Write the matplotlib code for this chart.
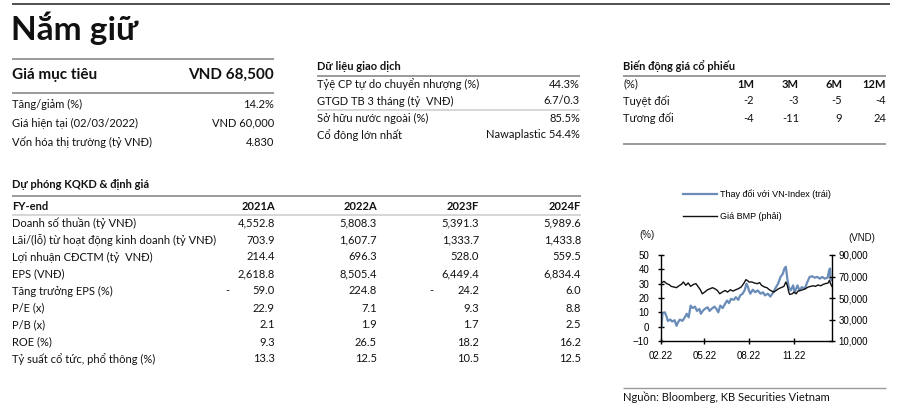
import numpy as np
import matplotlib
matplotlib.use('Agg')
import matplotlib.pyplot as plt
import matplotlib.dates as mdates
from matplotlib.ticker import FuncFormatter

plt.rcParams['font.family'] = ['Lato', 'Noto Sans', 'DejaVu Sans']
CHART_FONT = ['Liberation Sans', 'DejaVu Sans']

# --- header block
rating = 'Nắm giữ'
target_label = 'Giá mục tiêu'
target_value = 'VND 68,500'
summary_labels = ['Tăng/giảm (%)', 'Giá hiện tại (02/03/2022)', 'Vốn hóa thị trường (tỷ VNĐ)']
summary_values = ['14.2%', 'VND 60,000', '4.830']

# --- trading data
trading_title = 'Dữ liệu giao dịch'
trading_labels = ['Tỷệ CP tự do chuyển nhượng (%)', 'GTGD TB 3 tháng (tỷ  VNĐ)',
                  'Sở hữu nước ngoài (%)', 'Cổ đông lớn nhất']
trading_values = ['44.3%', '6.7/0.3', '85.5%', 'Nawaplastic 54.4%']

# --- share price performance
perf_title = 'Biến động giá cổ phiếu'
perf_periods = ['1M', '3M', '6M', '12M']
perf_absolute = [-2, -3, -5, -4]
perf_relative = [-4, -11, 9, 24]

# --- forecast table
fc_title = 'Dự phóng KQKD & định giá'
fy_years = ['2021A', '2022A', '2023F', '2024F']
fc_labels = ['Doanh số thuần (tỷ VNĐ)', 'Lãi/(lỗ) từ hoạt động kinh doanh (tỷ VNĐ)',
             'Lợi nhuận CĐCTM (tỷ  VNĐ)', 'EPS (VNĐ)', 'Tăng trưởng EPS (%)', 'P/E (x)',
             'P/B (x)', 'ROE (%)', 'Tỷ suất cổ tức, phổ thông (%)']
revenue = [4552.8, 5808.3, 5391.3, 5989.6]
op_profit = [703.9, 1607.7, 1333.7, 1433.8]
npat = [214.4, 696.3, 528.0, 559.5]
eps = [2618.8, 8505.4, 6449.4, 6834.4]
eps_growth = [-59.0, 224.8, -24.2, 6.0]
pe = [22.9, 7.1, 9.3, 8.8]
pb = [2.1, 1.9, 1.7, 2.5]
roe = [9.3, 26.5, 18.2, 16.2]
div_yield = [13.3, 12.5, 10.5, 12.5]

# --- chart series (days since 2022-02-01)
rel_days = [1, 3, 8, 12, 14, 19, 23, 28, 32, 35, 39, 44, 49, 53, 57, 61, 65, 70, 74, 79,
            82, 86, 90, 96, 100, 104, 110, 114, 118, 122, 127, 132, 136, 140, 144, 150, 154,
            159, 163, 168, 172, 176, 179, 181, 184, 189, 194, 199, 205, 210, 214, 220, 225,
            230, 235, 241, 246, 251, 254, 257, 260, 263, 267, 272, 275, 281, 285, 290, 296,
            301, 306, 311, 316, 322, 327, 332, 337, 343, 346, 348, 349, 352]
rel_vnindex = [0, 9, 10, 6.5, 4, 5, 3.6, 4.5, 0.6, 3, 5, 4, 6.5, 9, 6.5, 14.7, 13, 14, 11,
               12.4, 9, 11, 12.4, 13.5, 11, 12.4, 14, 12.4, 10, 14.7, 13, 16, 18.2, 16.4,
               19.4, 18.7, 20.6, 18.7, 21.8, 23, 25.3, 30, 27.6, 25.3, 23, 25.8, 24, 25.3,
               23, 24, 21.8, 23, 21, 23.4, 26.5, 30, 34.7, 37, 40.6, 41.8, 33.5, 27.6, 25.3,
               28.8, 24, 28.8, 25.3, 27.6, 26.5, 31, 34.7, 35.2, 34.2, 34.7, 33.5, 34.7,
               33.5, 34.2, 39.4, 40.6, 33.5, 32.4]
price_days = [1, 6, 12, 17, 21, 27, 32, 37, 42, 46, 51, 56, 61, 67, 72, 77, 81, 85, 90, 96,
              101, 106, 111, 116, 121, 126, 132, 137, 143, 148, 154, 159, 165, 170, 175,
              179, 181, 187, 192, 198, 203, 207, 213, 218, 223, 228, 232, 237, 242, 247,
              253, 257, 260, 263, 265, 270, 274, 278, 282, 287, 292, 297, 303, 308, 313,
              318, 323, 329, 334, 338, 344, 347, 349, 352]
bmp_price = [64000, 65500, 63300, 62400, 60800, 60200, 59600, 61400, 62700, 64900, 61800,
             64000, 60800, 62700, 63300, 60200, 57700, 53900, 55500, 57700, 58600, 59600,
             58600, 57000, 53900, 55500, 57000, 55500, 57700, 56400, 57700, 58600, 60200,
             63300, 67100, 65800, 64900, 64900, 64000, 63300, 64300, 61800, 60200, 59600,
             57700, 56400, 55500, 57000, 58600, 59600, 60800, 64900, 61800, 55500, 53300,
             53900, 55500, 53900, 56400, 57000, 57700, 58600, 60200, 60800, 61400, 60800,
             62100, 61400, 62700, 63300, 64000, 66500, 63300, 60800]

start = np.datetime64('2022-02-01')
rel_dates = start + np.array(rel_days, dtype='timedelta64[D]')
price_dates = start + np.array(price_days, dtype='timedelta64[D]')

TXT = '#111111'
DARK_RULE = '#9a9a9a'
LIGHT_RULE = '#cfcfcf'

fig = plt.figure(figsize=(8.99, 4.05), dpi=100)
bg = fig.add_axes([0, 0, 1, 1])
bg.set_xlim(0, 899)
bg.set_ylim(405, 0)
bg.axis('off')


def rule(y, x0, x1, color=DARK_RULE, lw=1.4):
    bg.plot([x0, x1], [y, y], color=color, lw=lw, solid_capstyle='butt')


def txt(x, y, s, ha='left', size=8, weight='normal'):
    bg.text(x, y, s, ha=ha, va='center', fontsize=size, fontweight=weight, color=TXT)


# top banner
rule(4, 12, 890, color='#333333', lw=1.2)
txt(11, 28, rating, size=24, weight='bold')

# target price block
L0, R0 = 12, 274
rule(59, L0, R0)
txt(L0, 75, target_label, size=11, weight='bold')
txt(R0, 75, target_value, ha='right', size=11, weight='bold')
rule(93, L0, R0)
for i, (lab, val) in enumerate(zip(summary_labels, summary_values)):
    y = 104 + i * 19
    txt(L0, y, lab)
    txt(R0, y, val, ha='right')

# trading data
L1, R1 = 317, 580
txt(L1, 66, trading_title, weight='bold')
rule(76, L1, R1)
for i, (lab, val) in enumerate(zip(trading_labels, trading_values)):
    y = 84 + i * 17
    txt(L1, y, lab)
    txt(R1, y, val, ha='right')
rule(110, L1, R1, color=LIGHT_RULE, lw=1.2)

# price performance
L2 = 623
perf_cols = [754, 799, 842, 886]
txt(L2, 66, perf_title, weight='bold')
rule(76, L2, perf_cols[-1])
txt(L2, 84, '(%)')
for x, p, a, r in zip(perf_cols, perf_periods, perf_absolute, perf_relative):
    txt(x, 84, p, ha='right', weight='bold')
    txt(x, 101, f'{a:d}', ha='right')
    txt(x, 118, f'{r:d}', ha='right')
txt(L2, 101, 'Tuyệt đối')
txt(L2, 118, 'Tương đối')
rule(144, L2, perf_cols[-1])

# forecast table
fc_cols = [275, 377, 479, 581]
txt(L0, 184, fc_title, weight='bold')
rule(196, L0, fc_cols[-1])
txt(L0, 206, 'FY-end', weight='bold')
for x, yr in zip(fc_cols, fy_years):
    txt(x, 206, yr, ha='right', weight='bold')
rule(215, L0, fc_cols[-1], color=LIGHT_RULE, lw=1.2)

fc_data = [revenue, op_profit, npat, eps, eps_growth, pe, pb, roe, div_yield]
for i, (lab, vals) in enumerate(zip(fc_labels, fc_data)):
    y = 223 + i * 17
    txt(L0, y, lab)
    for x, v in zip(fc_cols, vals):
        if v < 0:
            # accounting style minus sign sits apart from the number
            txt(x - 46, y, '-', ha='right')
        txt(x, y, f'{abs(v):,.1f}', ha='right')

# chart
ax = fig.add_axes([661 / 899, (405 - 341) / 405, (832 - 661) / 899, 86 / 405])
l1, = ax.plot(rel_dates, rel_vnindex, color='#6a8cb8', lw=1.6,
              label='Thay đổi với VN-Index (trái)')
ax.set_ylim(-10, 50)
ax.set_yticks(range(-10, 51, 10))
ax.set_xlim(start, start + np.timedelta64(352, 'D'))
ax.xaxis.set_major_locator(mdates.MonthLocator(bymonth=[2, 5, 8, 11]))
ax.xaxis.set_major_formatter(mdates.DateFormatter('%m.%y'))
ax2 = ax.twinx()
l2, = ax2.plot(price_dates, bmp_price, color='#111111', lw=1.0, label='Giá BMP (phải)')
ax2.set_ylim(10000, 90000)
ax2.set_yticks(range(10000, 90001, 20000))
ax2.yaxis.set_major_formatter(FuncFormatter(lambda v, p: f'{v:,.0f}'))

ax.spines['top'].set_visible(False)
ax.spines['right'].set_visible(False)
for s in ['top', 'left', 'bottom']:
    ax2.spines[s].set_visible(False)
for s in ax.spines.values():
    s.set_linewidth(1.0)
ax2.spines['right'].set_linewidth(1.0)
ax.tick_params(axis='y', direction='inout', length=5, width=1, labelsize=7, pad=6)
ax.tick_params(axis='x', direction='inout', length=5, width=1, labelsize=7, pad=5)
ax2.tick_params(axis='y', direction='inout', length=5, width=1, labelsize=7, pad=2)
for lab in ax.get_xticklabels() + ax.get_yticklabels() + ax2.get_yticklabels():
    lab.set_fontfamily(CHART_FONT)

leg = ax.legend(handles=[l1, l2], loc='upper left', bbox_to_anchor=(683 / 899, 1 - 189 / 405),
                bbox_transform=fig.transFigure, frameon=False, borderpad=0, borderaxespad=0,
                handlelength=3.8, handletextpad=0.3, labelspacing=1.5,
                prop={'family': CHART_FONT, 'size': 6.5})
bg.text(647, 235, '(%)', ha='center', va='center', fontsize=7, family=CHART_FONT, color=TXT)
bg.text(862, 238, '(VND)', ha='center', va='center', fontsize=7, family=CHART_FONT, color=TXT)

# source
rule(388, L2, 886, color=DARK_RULE, lw=1.0)
txt(L2, 397, 'Nguồn: Bloomberg, KB Securities Vietnam')

fig.savefig('out.png', dpi=100)
